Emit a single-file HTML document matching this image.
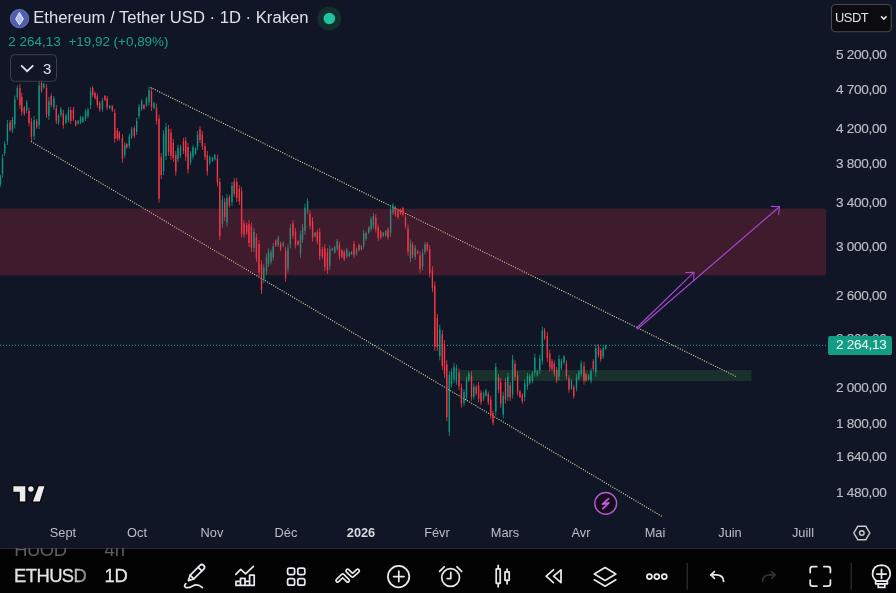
<!DOCTYPE html>
<html><head><meta charset="utf-8">
<style>
*{margin:0;padding:0;box-sizing:border-box}
html,body{width:896px;height:593px;overflow:hidden;background:#101626;font-family:"Liberation Sans",Arial,sans-serif}
#chart{position:absolute;left:0;top:0;width:896px;height:548px;background:#101626;overflow:hidden}
svg{position:absolute;left:0;top:0}
.t{position:absolute;line-height:1;white-space:nowrap}
#tb{position:absolute;left:0;top:548px;width:896px;height:45px;background:#030304;overflow:hidden}
</style></head><body>
<div id="wrap" style="position:absolute;left:0;top:0;width:896px;height:593px;overflow:hidden;filter:blur(0.35px)">
<div id="chart">
<svg width="896" height="548" viewBox="0 0 896 548">
<line x1="0" y1="345.3" x2="826" y2="345.3" stroke="#26a69a" stroke-width="1" stroke-dasharray="1 2"/>
<line x1="150.4" y1="87.4" x2="737" y2="377" stroke="#dcd09c" stroke-width="1.1" stroke-dasharray="1.1 1.35"/>
<line x1="31" y1="141.5" x2="662.8" y2="516.9" stroke="#dcd09c" stroke-width="1.1" stroke-dasharray="1.1 1.35"/>
<rect x="0.10" y="174.5" width="0.8" height="12.2" fill="#089981"/>
<rect x="-0.20" y="176.7" width="1.4" height="7.8" fill="#089981"/>
<rect x="2.10" y="154.0" width="0.8" height="23.6" fill="#089981"/>
<rect x="1.80" y="158.0" width="1.4" height="15.6" fill="#089981"/>
<rect x="4.30" y="141.0" width="0.8" height="15.0" fill="#089981"/>
<rect x="4.00" y="143.7" width="1.4" height="9.6" fill="#089981"/>
<rect x="7.00" y="120.0" width="0.8" height="25.0" fill="#089981"/>
<rect x="6.70" y="124.0" width="1.4" height="17.0" fill="#089981"/>
<rect x="9.70" y="120.0" width="0.8" height="12.0" fill="#f23645"/>
<rect x="9.40" y="122.2" width="1.4" height="7.7" fill="#f23645"/>
<rect x="12.00" y="117.0" width="0.8" height="16.0" fill="#089981"/>
<rect x="11.70" y="119.9" width="1.4" height="10.2" fill="#089981"/>
<rect x="14.40" y="95.5" width="0.8" height="33.0" fill="#089981"/>
<rect x="14.10" y="99.5" width="1.4" height="25.0" fill="#089981"/>
<rect x="16.90" y="85.4" width="0.8" height="14.2" fill="#089981"/>
<rect x="16.60" y="88.0" width="1.4" height="9.1" fill="#089981"/>
<rect x="19.50" y="84.0" width="0.8" height="25.0" fill="#f23645"/>
<rect x="19.20" y="88.0" width="1.4" height="17.0" fill="#f23645"/>
<rect x="21.40" y="92.8" width="0.8" height="22.9" fill="#f23645"/>
<rect x="21.10" y="96.8" width="1.4" height="14.9" fill="#f23645"/>
<rect x="23.90" y="106.0" width="0.8" height="9.7" fill="#f23645"/>
<rect x="23.60" y="107.7" width="1.4" height="6.2" fill="#f23645"/>
<rect x="26.30" y="100.0" width="0.8" height="13.0" fill="#089981"/>
<rect x="26.00" y="102.3" width="1.4" height="8.3" fill="#089981"/>
<rect x="28.60" y="107.6" width="0.8" height="18.9" fill="#f23645"/>
<rect x="28.30" y="111.0" width="1.4" height="12.1" fill="#f23645"/>
<rect x="31.00" y="118.0" width="0.8" height="23.0" fill="#f23645"/>
<rect x="30.70" y="122.0" width="1.4" height="15.0" fill="#f23645"/>
<rect x="33.70" y="116.0" width="0.8" height="24.0" fill="#089981"/>
<rect x="33.40" y="120.0" width="1.4" height="16.0" fill="#089981"/>
<rect x="36.30" y="119.0" width="0.8" height="10.0" fill="#f23645"/>
<rect x="36.00" y="120.8" width="1.4" height="6.4" fill="#f23645"/>
<rect x="38.70" y="81.4" width="0.8" height="47.6" fill="#089981"/>
<rect x="38.40" y="85.4" width="1.4" height="39.6" fill="#089981"/>
<rect x="41.10" y="80.7" width="0.8" height="12.1" fill="#f23645"/>
<rect x="40.80" y="82.9" width="1.4" height="7.7" fill="#f23645"/>
<rect x="43.40" y="82.7" width="0.8" height="6.1" fill="#089981"/>
<rect x="43.10" y="83.8" width="1.4" height="3.9" fill="#089981"/>
<rect x="46.10" y="84.0" width="0.8" height="34.0" fill="#f23645"/>
<rect x="45.80" y="88.0" width="1.4" height="26.0" fill="#f23645"/>
<rect x="48.50" y="97.0" width="0.8" height="23.0" fill="#089981"/>
<rect x="48.20" y="101.0" width="1.4" height="15.0" fill="#089981"/>
<rect x="50.80" y="93.5" width="0.8" height="14.1" fill="#f23645"/>
<rect x="50.50" y="96.0" width="1.4" height="9.0" fill="#f23645"/>
<rect x="53.50" y="96.0" width="0.8" height="14.0" fill="#089981"/>
<rect x="53.20" y="98.5" width="1.4" height="9.0" fill="#089981"/>
<rect x="55.90" y="105.0" width="0.8" height="19.0" fill="#f23645"/>
<rect x="55.60" y="108.4" width="1.4" height="12.2" fill="#f23645"/>
<rect x="58.20" y="114.0" width="0.8" height="11.0" fill="#089981"/>
<rect x="57.90" y="116.0" width="1.4" height="7.0" fill="#089981"/>
<rect x="60.50" y="107.0" width="0.8" height="10.0" fill="#089981"/>
<rect x="60.20" y="108.8" width="1.4" height="6.4" fill="#089981"/>
<rect x="62.90" y="110.0" width="0.8" height="18.5" fill="#f23645"/>
<rect x="62.60" y="113.3" width="1.4" height="11.8" fill="#f23645"/>
<rect x="65.60" y="113.7" width="0.8" height="10.8" fill="#089981"/>
<rect x="65.30" y="115.6" width="1.4" height="6.9" fill="#089981"/>
<rect x="68.10" y="107.0" width="0.8" height="15.5" fill="#089981"/>
<rect x="67.80" y="109.8" width="1.4" height="9.9" fill="#089981"/>
<rect x="70.40" y="107.0" width="0.8" height="17.0" fill="#f23645"/>
<rect x="70.10" y="110.1" width="1.4" height="10.9" fill="#f23645"/>
<rect x="73.00" y="107.0" width="0.8" height="14.0" fill="#f23645"/>
<rect x="72.70" y="109.5" width="1.4" height="9.0" fill="#f23645"/>
<rect x="75.30" y="120.0" width="0.8" height="6.5" fill="#f23645"/>
<rect x="75.00" y="121.2" width="1.4" height="4.2" fill="#f23645"/>
<rect x="77.80" y="120.0" width="0.8" height="4.5" fill="#089981"/>
<rect x="77.50" y="120.8" width="1.4" height="2.9" fill="#089981"/>
<rect x="80.20" y="115.7" width="0.8" height="8.3" fill="#089981"/>
<rect x="79.90" y="117.2" width="1.4" height="5.3" fill="#089981"/>
<rect x="82.50" y="116.0" width="0.8" height="7.0" fill="#089981"/>
<rect x="82.20" y="117.3" width="1.4" height="4.5" fill="#089981"/>
<rect x="85.20" y="109.0" width="0.8" height="12.0" fill="#089981"/>
<rect x="84.90" y="111.2" width="1.4" height="7.7" fill="#089981"/>
<rect x="87.60" y="107.6" width="0.8" height="10.4" fill="#089981"/>
<rect x="87.30" y="109.5" width="1.4" height="6.7" fill="#089981"/>
<rect x="90.20" y="87.4" width="0.8" height="21.6" fill="#089981"/>
<rect x="89.90" y="91.3" width="1.4" height="13.8" fill="#089981"/>
<rect x="92.30" y="86.0" width="0.8" height="11.0" fill="#f23645"/>
<rect x="92.00" y="88.0" width="1.4" height="7.0" fill="#f23645"/>
<rect x="94.60" y="91.5" width="0.8" height="8.1" fill="#f23645"/>
<rect x="94.30" y="93.0" width="1.4" height="5.2" fill="#f23645"/>
<rect x="96.90" y="93.5" width="0.8" height="14.1" fill="#f23645"/>
<rect x="96.60" y="96.0" width="1.4" height="9.0" fill="#f23645"/>
<rect x="99.30" y="101.0" width="0.8" height="10.7" fill="#f23645"/>
<rect x="99.00" y="102.9" width="1.4" height="6.8" fill="#f23645"/>
<rect x="102.00" y="98.0" width="0.8" height="13.7" fill="#089981"/>
<rect x="101.70" y="100.5" width="1.4" height="8.8" fill="#089981"/>
<rect x="104.50" y="95.0" width="0.8" height="6.0" fill="#f23645"/>
<rect x="104.20" y="96.1" width="1.4" height="3.8" fill="#f23645"/>
<rect x="106.70" y="96.0" width="0.8" height="14.0" fill="#f23645"/>
<rect x="106.40" y="98.5" width="1.4" height="9.0" fill="#f23645"/>
<rect x="109.40" y="105.0" width="0.8" height="4.0" fill="#089981"/>
<rect x="109.10" y="105.7" width="1.4" height="2.6" fill="#089981"/>
<rect x="111.90" y="105.0" width="0.8" height="6.7" fill="#f23645"/>
<rect x="111.60" y="106.2" width="1.4" height="4.3" fill="#f23645"/>
<rect x="114.40" y="109.0" width="0.8" height="33.7" fill="#f23645"/>
<rect x="114.10" y="113.0" width="1.4" height="25.7" fill="#f23645"/>
<rect x="116.90" y="128.0" width="0.8" height="13.0" fill="#f23645"/>
<rect x="116.60" y="130.3" width="1.4" height="8.3" fill="#f23645"/>
<rect x="118.90" y="131.0" width="0.8" height="9.6" fill="#f23645"/>
<rect x="118.60" y="132.7" width="1.4" height="6.1" fill="#f23645"/>
<rect x="122.00" y="134.0" width="0.8" height="28.8" fill="#f23645"/>
<rect x="121.70" y="138.0" width="1.4" height="20.8" fill="#f23645"/>
<rect x="124.40" y="142.0" width="0.8" height="16.0" fill="#089981"/>
<rect x="124.10" y="144.9" width="1.4" height="10.2" fill="#089981"/>
<rect x="126.40" y="143.0" width="0.8" height="5.7" fill="#f23645"/>
<rect x="126.10" y="144.0" width="1.4" height="3.6" fill="#f23645"/>
<rect x="128.90" y="134.0" width="0.8" height="14.7" fill="#089981"/>
<rect x="128.60" y="136.6" width="1.4" height="9.4" fill="#089981"/>
<rect x="131.20" y="127.0" width="0.8" height="12.0" fill="#089981"/>
<rect x="130.90" y="129.2" width="1.4" height="7.7" fill="#089981"/>
<rect x="133.90" y="125.8" width="0.8" height="12.2" fill="#f23645"/>
<rect x="133.60" y="128.0" width="1.4" height="7.8" fill="#f23645"/>
<rect x="136.30" y="117.7" width="0.8" height="17.3" fill="#089981"/>
<rect x="136.00" y="120.8" width="1.4" height="11.1" fill="#089981"/>
<rect x="138.60" y="104.0" width="0.8" height="15.0" fill="#089981"/>
<rect x="138.30" y="106.7" width="1.4" height="9.6" fill="#089981"/>
<rect x="141.30" y="99.0" width="0.8" height="12.0" fill="#089981"/>
<rect x="141.00" y="101.2" width="1.4" height="7.7" fill="#089981"/>
<rect x="143.60" y="104.0" width="0.8" height="5.6" fill="#f23645"/>
<rect x="143.30" y="105.0" width="1.4" height="3.6" fill="#f23645"/>
<rect x="146.00" y="96.8" width="0.8" height="10.2" fill="#089981"/>
<rect x="145.70" y="98.6" width="1.4" height="6.5" fill="#089981"/>
<rect x="148.60" y="86.7" width="0.8" height="18.9" fill="#089981"/>
<rect x="148.30" y="90.1" width="1.4" height="12.1" fill="#089981"/>
<rect x="151.10" y="87.4" width="0.8" height="23.6" fill="#f23645"/>
<rect x="150.80" y="91.4" width="1.4" height="15.6" fill="#f23645"/>
<rect x="153.60" y="101.6" width="0.8" height="8.0" fill="#089981"/>
<rect x="153.30" y="103.0" width="1.4" height="5.1" fill="#089981"/>
<rect x="156.10" y="103.6" width="0.8" height="20.9" fill="#f23645"/>
<rect x="155.80" y="107.4" width="1.4" height="13.4" fill="#f23645"/>
<rect x="158.60" y="114.4" width="0.8" height="88.2" fill="#f23645"/>
<rect x="158.30" y="118.4" width="1.4" height="80.2" fill="#f23645"/>
<rect x="160.80" y="153.0" width="0.8" height="26.0" fill="#f23645"/>
<rect x="160.50" y="157.0" width="1.4" height="18.0" fill="#f23645"/>
<rect x="163.20" y="130.0" width="0.8" height="45.0" fill="#089981"/>
<rect x="162.90" y="134.0" width="1.4" height="37.0" fill="#089981"/>
<rect x="165.60" y="123.0" width="0.8" height="37.0" fill="#089981"/>
<rect x="165.30" y="127.0" width="1.4" height="29.0" fill="#089981"/>
<rect x="168.20" y="125.0" width="0.8" height="31.0" fill="#f23645"/>
<rect x="167.90" y="129.0" width="1.4" height="23.0" fill="#f23645"/>
<rect x="170.60" y="128.5" width="0.8" height="31.5" fill="#f23645"/>
<rect x="170.30" y="132.5" width="1.4" height="23.5" fill="#f23645"/>
<rect x="172.90" y="139.0" width="0.8" height="23.0" fill="#f23645"/>
<rect x="172.60" y="143.0" width="1.4" height="15.0" fill="#f23645"/>
<rect x="175.40" y="151.0" width="0.8" height="24.6" fill="#f23645"/>
<rect x="175.10" y="155.0" width="1.4" height="16.6" fill="#f23645"/>
<rect x="177.60" y="144.7" width="0.8" height="17.3" fill="#089981"/>
<rect x="177.30" y="147.8" width="1.4" height="11.1" fill="#089981"/>
<rect x="180.10" y="144.7" width="0.8" height="13.3" fill="#089981"/>
<rect x="179.80" y="147.1" width="1.4" height="8.5" fill="#089981"/>
<rect x="183.10" y="138.0" width="0.8" height="16.0" fill="#f23645"/>
<rect x="182.80" y="140.9" width="1.4" height="10.2" fill="#f23645"/>
<rect x="185.30" y="137.0" width="0.8" height="23.8" fill="#f23645"/>
<rect x="185.00" y="141.0" width="1.4" height="15.8" fill="#f23645"/>
<rect x="187.60" y="143.0" width="0.8" height="30.6" fill="#f23645"/>
<rect x="187.30" y="147.0" width="1.4" height="22.6" fill="#f23645"/>
<rect x="190.20" y="151.0" width="0.8" height="13.8" fill="#089981"/>
<rect x="189.90" y="153.5" width="1.4" height="8.8" fill="#089981"/>
<rect x="192.60" y="144.7" width="0.8" height="14.7" fill="#089981"/>
<rect x="192.30" y="147.3" width="1.4" height="9.4" fill="#089981"/>
<rect x="195.20" y="147.0" width="0.8" height="8.0" fill="#089981"/>
<rect x="194.90" y="148.4" width="1.4" height="5.1" fill="#089981"/>
<rect x="197.20" y="131.0" width="0.8" height="19.0" fill="#089981"/>
<rect x="196.90" y="134.4" width="1.4" height="12.2" fill="#089981"/>
<rect x="199.60" y="126.0" width="0.8" height="17.0" fill="#f23645"/>
<rect x="199.30" y="129.1" width="1.4" height="10.9" fill="#f23645"/>
<rect x="201.90" y="131.0" width="0.8" height="19.0" fill="#f23645"/>
<rect x="201.60" y="134.4" width="1.4" height="12.2" fill="#f23645"/>
<rect x="204.60" y="143.0" width="0.8" height="17.0" fill="#f23645"/>
<rect x="204.30" y="146.1" width="1.4" height="10.9" fill="#f23645"/>
<rect x="206.90" y="151.0" width="0.8" height="24.6" fill="#f23645"/>
<rect x="206.60" y="155.0" width="1.4" height="16.6" fill="#f23645"/>
<rect x="209.30" y="155.4" width="0.8" height="9.4" fill="#089981"/>
<rect x="209.00" y="157.1" width="1.4" height="6.0" fill="#089981"/>
<rect x="212.00" y="156.7" width="0.8" height="5.3" fill="#089981"/>
<rect x="211.70" y="157.7" width="1.4" height="3.4" fill="#089981"/>
<rect x="214.40" y="154.0" width="0.8" height="6.8" fill="#089981"/>
<rect x="214.10" y="155.2" width="1.4" height="4.4" fill="#089981"/>
<rect x="217.00" y="154.7" width="0.8" height="31.7" fill="#f23645"/>
<rect x="216.70" y="158.7" width="1.4" height="23.7" fill="#f23645"/>
<rect x="219.40" y="178.0" width="0.8" height="62.0" fill="#f23645"/>
<rect x="219.10" y="182.0" width="1.4" height="54.0" fill="#f23645"/>
<rect x="222.00" y="195.6" width="0.8" height="32.4" fill="#089981"/>
<rect x="221.70" y="199.6" width="1.4" height="24.4" fill="#089981"/>
<rect x="224.30" y="198.0" width="0.8" height="23.0" fill="#f23645"/>
<rect x="224.00" y="202.0" width="1.4" height="15.0" fill="#f23645"/>
<rect x="226.60" y="194.0" width="0.8" height="32.6" fill="#089981"/>
<rect x="226.30" y="198.0" width="1.4" height="24.6" fill="#089981"/>
<rect x="229.00" y="195.0" width="0.8" height="12.7" fill="#f23645"/>
<rect x="228.70" y="197.3" width="1.4" height="8.1" fill="#f23645"/>
<rect x="231.60" y="182.0" width="0.8" height="24.0" fill="#089981"/>
<rect x="231.30" y="186.0" width="1.4" height="16.0" fill="#089981"/>
<rect x="233.80" y="178.0" width="0.8" height="19.0" fill="#f23645"/>
<rect x="233.50" y="181.4" width="1.4" height="12.2" fill="#f23645"/>
<rect x="236.40" y="178.0" width="0.8" height="24.0" fill="#f23645"/>
<rect x="236.10" y="182.0" width="1.4" height="16.0" fill="#f23645"/>
<rect x="238.90" y="185.0" width="0.8" height="20.0" fill="#f23645"/>
<rect x="238.60" y="188.6" width="1.4" height="12.8" fill="#f23645"/>
<rect x="241.20" y="187.0" width="0.8" height="50.5" fill="#f23645"/>
<rect x="240.90" y="191.0" width="1.4" height="42.5" fill="#f23645"/>
<rect x="243.60" y="220.0" width="0.8" height="18.0" fill="#f23645"/>
<rect x="243.30" y="223.2" width="1.4" height="11.5" fill="#f23645"/>
<rect x="246.30" y="222.6" width="0.8" height="12.2" fill="#f23645"/>
<rect x="246.00" y="224.8" width="1.4" height="7.8" fill="#f23645"/>
<rect x="248.60" y="220.0" width="0.8" height="27.0" fill="#f23645"/>
<rect x="248.30" y="224.0" width="1.4" height="19.0" fill="#f23645"/>
<rect x="251.00" y="222.6" width="0.8" height="29.4" fill="#f23645"/>
<rect x="250.70" y="226.6" width="1.4" height="21.4" fill="#f23645"/>
<rect x="253.60" y="228.0" width="0.8" height="24.0" fill="#089981"/>
<rect x="253.30" y="232.0" width="1.4" height="16.0" fill="#089981"/>
<rect x="256.00" y="233.5" width="0.8" height="28.3" fill="#f23645"/>
<rect x="255.70" y="237.5" width="1.4" height="20.3" fill="#f23645"/>
<rect x="258.60" y="240.0" width="0.8" height="36.6" fill="#f23645"/>
<rect x="258.30" y="244.0" width="1.4" height="28.6" fill="#f23645"/>
<rect x="261.10" y="260.4" width="0.8" height="33.6" fill="#f23645"/>
<rect x="260.80" y="264.4" width="1.4" height="25.6" fill="#f23645"/>
<rect x="263.40" y="264.5" width="0.8" height="18.8" fill="#089981"/>
<rect x="263.10" y="267.9" width="1.4" height="12.0" fill="#089981"/>
<rect x="266.10" y="253.7" width="0.8" height="21.6" fill="#089981"/>
<rect x="265.80" y="257.6" width="1.4" height="13.8" fill="#089981"/>
<rect x="268.10" y="248.3" width="0.8" height="18.7" fill="#089981"/>
<rect x="267.80" y="251.7" width="1.4" height="12.0" fill="#089981"/>
<rect x="270.60" y="249.6" width="0.8" height="14.9" fill="#089981"/>
<rect x="270.30" y="252.3" width="1.4" height="9.5" fill="#089981"/>
<rect x="272.80" y="243.0" width="0.8" height="17.4" fill="#089981"/>
<rect x="272.50" y="246.1" width="1.4" height="11.1" fill="#089981"/>
<rect x="275.30" y="239.5" width="0.8" height="7.5" fill="#f23645"/>
<rect x="275.00" y="240.8" width="1.4" height="4.8" fill="#f23645"/>
<rect x="277.80" y="235.5" width="0.8" height="11.5" fill="#089981"/>
<rect x="277.50" y="237.6" width="1.4" height="7.4" fill="#089981"/>
<rect x="280.20" y="241.6" width="0.8" height="9.4" fill="#f23645"/>
<rect x="279.90" y="243.3" width="1.4" height="6.0" fill="#f23645"/>
<rect x="282.90" y="241.6" width="0.8" height="5.4" fill="#089981"/>
<rect x="282.60" y="242.6" width="1.4" height="3.5" fill="#089981"/>
<rect x="285.20" y="247.0" width="0.8" height="35.0" fill="#f23645"/>
<rect x="284.90" y="251.0" width="1.4" height="27.0" fill="#f23645"/>
<rect x="287.60" y="244.3" width="0.8" height="28.3" fill="#089981"/>
<rect x="287.30" y="248.3" width="1.4" height="20.3" fill="#089981"/>
<rect x="289.90" y="224.0" width="0.8" height="24.3" fill="#089981"/>
<rect x="289.60" y="228.0" width="1.4" height="16.3" fill="#089981"/>
<rect x="292.60" y="220.0" width="0.8" height="18.9" fill="#f23645"/>
<rect x="292.30" y="223.4" width="1.4" height="12.1" fill="#f23645"/>
<rect x="295.10" y="228.0" width="0.8" height="20.3" fill="#f23645"/>
<rect x="294.80" y="231.7" width="1.4" height="13.0" fill="#f23645"/>
<rect x="297.60" y="240.0" width="0.8" height="5.6" fill="#f23645"/>
<rect x="297.30" y="241.0" width="1.4" height="3.6" fill="#f23645"/>
<rect x="300.10" y="230.8" width="0.8" height="26.9" fill="#089981"/>
<rect x="299.80" y="234.8" width="1.4" height="18.9" fill="#089981"/>
<rect x="302.20" y="224.0" width="0.8" height="19.0" fill="#089981"/>
<rect x="301.90" y="227.4" width="1.4" height="12.2" fill="#089981"/>
<rect x="304.60" y="203.7" width="0.8" height="31.1" fill="#089981"/>
<rect x="304.30" y="207.7" width="1.4" height="23.1" fill="#089981"/>
<rect x="307.20" y="198.3" width="0.8" height="16.2" fill="#089981"/>
<rect x="306.90" y="201.2" width="1.4" height="10.4" fill="#089981"/>
<rect x="309.60" y="210.4" width="0.8" height="19.0" fill="#f23645"/>
<rect x="309.30" y="213.8" width="1.4" height="12.2" fill="#f23645"/>
<rect x="312.20" y="217.0" width="0.8" height="24.6" fill="#f23645"/>
<rect x="311.90" y="221.0" width="1.4" height="16.6" fill="#f23645"/>
<rect x="314.60" y="232.0" width="0.8" height="5.5" fill="#089981"/>
<rect x="314.30" y="233.0" width="1.4" height="3.5" fill="#089981"/>
<rect x="316.90" y="229.4" width="0.8" height="14.9" fill="#f23645"/>
<rect x="316.60" y="232.1" width="1.4" height="9.5" fill="#f23645"/>
<rect x="319.30" y="228.0" width="0.8" height="32.4" fill="#f23645"/>
<rect x="319.00" y="232.0" width="1.4" height="24.4" fill="#f23645"/>
<rect x="322.00" y="247.0" width="0.8" height="12.0" fill="#f23645"/>
<rect x="321.70" y="249.2" width="1.4" height="7.7" fill="#f23645"/>
<rect x="324.40" y="244.3" width="0.8" height="26.9" fill="#f23645"/>
<rect x="324.10" y="248.3" width="1.4" height="18.9" fill="#f23645"/>
<rect x="327.00" y="248.3" width="0.8" height="25.7" fill="#f23645"/>
<rect x="326.70" y="252.3" width="1.4" height="17.7" fill="#f23645"/>
<rect x="329.40" y="245.6" width="0.8" height="24.4" fill="#089981"/>
<rect x="329.10" y="249.6" width="1.4" height="16.4" fill="#089981"/>
<rect x="331.90" y="247.6" width="0.8" height="3.4" fill="#089981"/>
<rect x="331.60" y="248.2" width="1.4" height="2.2" fill="#089981"/>
<rect x="334.40" y="245.6" width="0.8" height="8.1" fill="#089981"/>
<rect x="334.10" y="247.1" width="1.4" height="5.2" fill="#089981"/>
<rect x="336.80" y="238.9" width="0.8" height="12.1" fill="#089981"/>
<rect x="336.50" y="241.1" width="1.4" height="7.7" fill="#089981"/>
<rect x="339.00" y="241.6" width="0.8" height="18.1" fill="#f23645"/>
<rect x="338.70" y="244.9" width="1.4" height="11.6" fill="#f23645"/>
<rect x="341.50" y="249.0" width="0.8" height="9.3" fill="#f23645"/>
<rect x="341.20" y="250.7" width="1.4" height="6.0" fill="#f23645"/>
<rect x="343.80" y="250.0" width="0.8" height="11.0" fill="#f23645"/>
<rect x="343.50" y="252.0" width="1.4" height="7.0" fill="#f23645"/>
<rect x="346.40" y="247.6" width="0.8" height="10.7" fill="#089981"/>
<rect x="346.10" y="249.5" width="1.4" height="6.8" fill="#089981"/>
<rect x="348.90" y="251.6" width="0.8" height="5.4" fill="#089981"/>
<rect x="348.60" y="252.6" width="1.4" height="3.5" fill="#089981"/>
<rect x="351.20" y="251.0" width="0.8" height="4.0" fill="#089981"/>
<rect x="350.90" y="251.7" width="1.4" height="2.6" fill="#089981"/>
<rect x="353.60" y="240.8" width="0.8" height="17.5" fill="#f23645"/>
<rect x="353.30" y="244.0" width="1.4" height="11.2" fill="#f23645"/>
<rect x="356.10" y="247.6" width="0.8" height="8.0" fill="#089981"/>
<rect x="355.80" y="249.0" width="1.4" height="5.1" fill="#089981"/>
<rect x="358.60" y="243.5" width="0.8" height="8.1" fill="#f23645"/>
<rect x="358.30" y="245.0" width="1.4" height="5.2" fill="#f23645"/>
<rect x="361.00" y="245.0" width="0.8" height="5.3" fill="#089981"/>
<rect x="360.70" y="246.0" width="1.4" height="3.4" fill="#089981"/>
<rect x="363.30" y="230.0" width="0.8" height="19.0" fill="#089981"/>
<rect x="363.00" y="233.4" width="1.4" height="12.2" fill="#089981"/>
<rect x="365.60" y="231.4" width="0.8" height="9.4" fill="#089981"/>
<rect x="365.30" y="233.1" width="1.4" height="6.0" fill="#089981"/>
<rect x="368.40" y="226.0" width="0.8" height="8.0" fill="#089981"/>
<rect x="368.10" y="227.4" width="1.4" height="5.1" fill="#089981"/>
<rect x="370.70" y="216.6" width="0.8" height="14.8" fill="#089981"/>
<rect x="370.40" y="219.3" width="1.4" height="9.5" fill="#089981"/>
<rect x="373.00" y="213.0" width="0.8" height="15.7" fill="#089981"/>
<rect x="372.70" y="215.8" width="1.4" height="10.0" fill="#089981"/>
<rect x="375.40" y="214.0" width="0.8" height="18.7" fill="#f23645"/>
<rect x="375.10" y="217.4" width="1.4" height="12.0" fill="#f23645"/>
<rect x="377.80" y="224.6" width="0.8" height="16.2" fill="#f23645"/>
<rect x="377.50" y="227.5" width="1.4" height="10.4" fill="#f23645"/>
<rect x="380.40" y="230.0" width="0.8" height="9.5" fill="#f23645"/>
<rect x="380.10" y="231.7" width="1.4" height="6.1" fill="#f23645"/>
<rect x="382.80" y="232.0" width="0.8" height="5.0" fill="#089981"/>
<rect x="382.50" y="232.9" width="1.4" height="3.2" fill="#089981"/>
<rect x="385.30" y="230.0" width="0.8" height="6.8" fill="#089981"/>
<rect x="385.00" y="231.2" width="1.4" height="4.4" fill="#089981"/>
<rect x="387.60" y="227.3" width="0.8" height="12.2" fill="#f23645"/>
<rect x="387.30" y="229.5" width="1.4" height="7.8" fill="#f23645"/>
<rect x="390.20" y="205.8" width="0.8" height="31.0" fill="#089981"/>
<rect x="389.90" y="209.8" width="1.4" height="23.0" fill="#089981"/>
<rect x="392.60" y="203.0" width="0.8" height="12.0" fill="#089981"/>
<rect x="392.30" y="205.2" width="1.4" height="7.7" fill="#089981"/>
<rect x="395.00" y="205.8" width="0.8" height="10.8" fill="#f23645"/>
<rect x="394.70" y="207.7" width="1.4" height="6.9" fill="#f23645"/>
<rect x="397.60" y="208.5" width="0.8" height="10.8" fill="#f23645"/>
<rect x="397.30" y="210.4" width="1.4" height="6.9" fill="#f23645"/>
<rect x="400.10" y="208.5" width="0.8" height="6.5" fill="#f23645"/>
<rect x="399.80" y="209.7" width="1.4" height="4.2" fill="#f23645"/>
<rect x="402.60" y="206.5" width="0.8" height="10.1" fill="#f23645"/>
<rect x="402.30" y="208.3" width="1.4" height="6.5" fill="#f23645"/>
<rect x="405.10" y="215.0" width="0.8" height="13.7" fill="#f23645"/>
<rect x="404.80" y="217.5" width="1.4" height="8.8" fill="#f23645"/>
<rect x="407.60" y="224.6" width="0.8" height="31.0" fill="#f23645"/>
<rect x="407.30" y="228.6" width="1.4" height="23.0" fill="#f23645"/>
<rect x="410.10" y="239.5" width="0.8" height="22.9" fill="#089981"/>
<rect x="409.80" y="243.5" width="1.4" height="14.9" fill="#089981"/>
<rect x="412.20" y="242.0" width="0.8" height="16.3" fill="#f23645"/>
<rect x="411.90" y="244.9" width="1.4" height="10.4" fill="#f23645"/>
<rect x="414.80" y="245.0" width="0.8" height="14.7" fill="#089981"/>
<rect x="414.50" y="247.6" width="1.4" height="9.4" fill="#089981"/>
<rect x="417.20" y="250.0" width="0.8" height="4.3" fill="#f23645"/>
<rect x="416.90" y="250.8" width="1.4" height="2.8" fill="#f23645"/>
<rect x="419.60" y="251.6" width="0.8" height="21.4" fill="#f23645"/>
<rect x="419.30" y="255.5" width="1.4" height="13.7" fill="#f23645"/>
<rect x="422.20" y="249.0" width="0.8" height="21.5" fill="#089981"/>
<rect x="421.90" y="252.9" width="1.4" height="13.8" fill="#089981"/>
<rect x="424.60" y="242.0" width="0.8" height="12.3" fill="#089981"/>
<rect x="424.30" y="244.2" width="1.4" height="7.9" fill="#089981"/>
<rect x="426.90" y="242.0" width="0.8" height="9.6" fill="#f23645"/>
<rect x="426.60" y="243.7" width="1.4" height="6.1" fill="#f23645"/>
<rect x="429.30" y="245.0" width="0.8" height="32.5" fill="#f23645"/>
<rect x="429.00" y="249.0" width="1.4" height="24.5" fill="#f23645"/>
<rect x="432.00" y="266.4" width="0.8" height="25.9" fill="#f23645"/>
<rect x="431.70" y="270.4" width="1.4" height="17.9" fill="#f23645"/>
<rect x="434.40" y="281.6" width="0.8" height="69.4" fill="#f23645"/>
<rect x="434.10" y="285.6" width="1.4" height="61.4" fill="#f23645"/>
<rect x="436.90" y="314.0" width="0.8" height="37.0" fill="#f23645"/>
<rect x="436.60" y="318.0" width="1.4" height="29.0" fill="#f23645"/>
<rect x="439.40" y="324.7" width="0.8" height="35.7" fill="#089981"/>
<rect x="439.10" y="328.7" width="1.4" height="27.7" fill="#089981"/>
<rect x="441.90" y="330.0" width="0.8" height="40.0" fill="#f23645"/>
<rect x="441.60" y="334.0" width="1.4" height="32.0" fill="#f23645"/>
<rect x="444.10" y="340.0" width="0.8" height="38.0" fill="#f23645"/>
<rect x="443.80" y="344.0" width="1.4" height="30.0" fill="#f23645"/>
<rect x="446.40" y="360.4" width="0.8" height="60.8" fill="#f23645"/>
<rect x="446.10" y="364.4" width="1.4" height="52.8" fill="#f23645"/>
<rect x="448.90" y="371.0" width="0.8" height="65.0" fill="#089981"/>
<rect x="448.60" y="375.0" width="1.4" height="57.0" fill="#089981"/>
<rect x="451.10" y="368.5" width="0.8" height="19.0" fill="#089981"/>
<rect x="450.80" y="371.9" width="1.4" height="12.2" fill="#089981"/>
<rect x="453.60" y="363.0" width="0.8" height="20.3" fill="#089981"/>
<rect x="453.30" y="366.7" width="1.4" height="13.0" fill="#089981"/>
<rect x="456.00" y="364.5" width="0.8" height="20.3" fill="#089981"/>
<rect x="455.70" y="368.2" width="1.4" height="13.0" fill="#089981"/>
<rect x="458.60" y="368.5" width="0.8" height="21.5" fill="#f23645"/>
<rect x="458.30" y="372.4" width="1.4" height="13.8" fill="#f23645"/>
<rect x="461.00" y="383.5" width="0.8" height="24.2" fill="#f23645"/>
<rect x="460.70" y="387.5" width="1.4" height="16.2" fill="#f23645"/>
<rect x="463.60" y="389.0" width="0.8" height="17.4" fill="#089981"/>
<rect x="463.30" y="392.1" width="1.4" height="11.1" fill="#089981"/>
<rect x="466.10" y="376.7" width="0.8" height="24.3" fill="#089981"/>
<rect x="465.80" y="380.7" width="1.4" height="16.3" fill="#089981"/>
<rect x="468.40" y="371.2" width="0.8" height="10.8" fill="#089981"/>
<rect x="468.10" y="373.1" width="1.4" height="6.9" fill="#089981"/>
<rect x="471.10" y="371.3" width="0.8" height="29.7" fill="#f23645"/>
<rect x="470.80" y="375.3" width="1.4" height="21.7" fill="#f23645"/>
<rect x="473.40" y="383.5" width="0.8" height="16.1" fill="#089981"/>
<rect x="473.10" y="386.4" width="1.4" height="10.3" fill="#089981"/>
<rect x="475.80" y="384.8" width="0.8" height="10.8" fill="#f23645"/>
<rect x="475.50" y="386.7" width="1.4" height="6.9" fill="#f23645"/>
<rect x="478.20" y="382.0" width="0.8" height="20.3" fill="#f23645"/>
<rect x="477.90" y="385.7" width="1.4" height="13.0" fill="#f23645"/>
<rect x="480.60" y="390.0" width="0.8" height="15.0" fill="#f23645"/>
<rect x="480.30" y="392.7" width="1.4" height="9.6" fill="#f23645"/>
<rect x="483.20" y="391.6" width="0.8" height="9.4" fill="#089981"/>
<rect x="482.90" y="393.3" width="1.4" height="6.0" fill="#089981"/>
<rect x="485.60" y="388.9" width="0.8" height="8.1" fill="#089981"/>
<rect x="485.30" y="390.4" width="1.4" height="5.2" fill="#089981"/>
<rect x="487.90" y="391.6" width="0.8" height="13.4" fill="#f23645"/>
<rect x="487.60" y="394.0" width="1.4" height="8.6" fill="#f23645"/>
<rect x="490.40" y="395.6" width="0.8" height="22.9" fill="#f23645"/>
<rect x="490.10" y="399.6" width="1.4" height="14.9" fill="#f23645"/>
<rect x="492.60" y="410.4" width="0.8" height="14.9" fill="#f23645"/>
<rect x="492.30" y="413.1" width="1.4" height="9.5" fill="#f23645"/>
<rect x="495.40" y="363.0" width="0.8" height="52.8" fill="#089981"/>
<rect x="495.10" y="367.0" width="1.4" height="44.8" fill="#089981"/>
<rect x="498.10" y="374.0" width="0.8" height="19.0" fill="#f23645"/>
<rect x="497.80" y="377.4" width="1.4" height="12.2" fill="#f23645"/>
<rect x="500.30" y="378.0" width="0.8" height="29.7" fill="#f23645"/>
<rect x="500.00" y="382.0" width="1.4" height="21.7" fill="#f23645"/>
<rect x="502.80" y="391.6" width="0.8" height="26.9" fill="#089981"/>
<rect x="502.50" y="395.6" width="1.4" height="18.9" fill="#089981"/>
<rect x="505.10" y="378.0" width="0.8" height="25.7" fill="#f23645"/>
<rect x="504.80" y="382.0" width="1.4" height="17.7" fill="#f23645"/>
<rect x="507.50" y="372.7" width="0.8" height="28.3" fill="#089981"/>
<rect x="507.20" y="376.7" width="1.4" height="20.3" fill="#089981"/>
<rect x="509.80" y="382.0" width="0.8" height="19.0" fill="#f23645"/>
<rect x="509.50" y="385.4" width="1.4" height="12.2" fill="#f23645"/>
<rect x="512.20" y="355.0" width="0.8" height="43.3" fill="#089981"/>
<rect x="511.90" y="359.0" width="1.4" height="35.3" fill="#089981"/>
<rect x="514.60" y="360.4" width="0.8" height="20.2" fill="#f23645"/>
<rect x="514.30" y="364.0" width="1.4" height="12.9" fill="#f23645"/>
<rect x="517.20" y="371.2" width="0.8" height="24.4" fill="#f23645"/>
<rect x="516.90" y="375.2" width="1.4" height="16.4" fill="#f23645"/>
<rect x="519.60" y="390.0" width="0.8" height="8.3" fill="#f23645"/>
<rect x="519.30" y="391.5" width="1.4" height="5.3" fill="#f23645"/>
<rect x="521.90" y="393.0" width="0.8" height="10.7" fill="#f23645"/>
<rect x="521.60" y="394.9" width="1.4" height="6.8" fill="#f23645"/>
<rect x="524.30" y="379.3" width="0.8" height="21.7" fill="#089981"/>
<rect x="524.00" y="383.2" width="1.4" height="13.9" fill="#089981"/>
<rect x="527.00" y="372.7" width="0.8" height="17.3" fill="#089981"/>
<rect x="526.70" y="375.8" width="1.4" height="11.1" fill="#089981"/>
<rect x="529.40" y="374.0" width="0.8" height="10.8" fill="#089981"/>
<rect x="529.10" y="375.9" width="1.4" height="6.9" fill="#089981"/>
<rect x="532.00" y="371.2" width="0.8" height="12.1" fill="#089981"/>
<rect x="531.70" y="373.4" width="1.4" height="7.7" fill="#089981"/>
<rect x="534.40" y="353.7" width="0.8" height="22.9" fill="#089981"/>
<rect x="534.10" y="357.7" width="1.4" height="14.9" fill="#089981"/>
<rect x="536.90" y="370.0" width="0.8" height="6.6" fill="#089981"/>
<rect x="536.60" y="371.2" width="1.4" height="4.2" fill="#089981"/>
<rect x="539.40" y="355.0" width="0.8" height="19.0" fill="#089981"/>
<rect x="539.10" y="358.4" width="1.4" height="12.2" fill="#089981"/>
<rect x="541.90" y="326.7" width="0.8" height="37.8" fill="#089981"/>
<rect x="541.60" y="330.7" width="1.4" height="29.8" fill="#089981"/>
<rect x="544.20" y="328.0" width="0.8" height="12.0" fill="#f23645"/>
<rect x="543.90" y="330.2" width="1.4" height="7.7" fill="#f23645"/>
<rect x="546.90" y="332.0" width="0.8" height="29.8" fill="#f23645"/>
<rect x="546.60" y="336.0" width="1.4" height="21.8" fill="#f23645"/>
<rect x="549.40" y="349.6" width="0.8" height="21.6" fill="#f23645"/>
<rect x="549.10" y="353.5" width="1.4" height="13.8" fill="#f23645"/>
<rect x="551.60" y="359.0" width="0.8" height="12.2" fill="#f23645"/>
<rect x="551.30" y="361.2" width="1.4" height="7.8" fill="#f23645"/>
<rect x="553.90" y="360.4" width="0.8" height="16.2" fill="#f23645"/>
<rect x="553.60" y="363.3" width="1.4" height="10.4" fill="#f23645"/>
<rect x="556.30" y="367.0" width="0.8" height="16.3" fill="#f23645"/>
<rect x="556.00" y="369.9" width="1.4" height="10.4" fill="#f23645"/>
<rect x="558.60" y="355.0" width="0.8" height="25.6" fill="#089981"/>
<rect x="558.30" y="359.0" width="1.4" height="17.6" fill="#089981"/>
<rect x="561.00" y="359.0" width="0.8" height="11.0" fill="#089981"/>
<rect x="560.70" y="361.0" width="1.4" height="7.0" fill="#089981"/>
<rect x="563.60" y="355.0" width="0.8" height="9.5" fill="#089981"/>
<rect x="563.30" y="356.7" width="1.4" height="6.1" fill="#089981"/>
<rect x="566.00" y="360.4" width="0.8" height="18.9" fill="#f23645"/>
<rect x="565.70" y="363.8" width="1.4" height="12.1" fill="#f23645"/>
<rect x="568.60" y="375.3" width="0.8" height="17.5" fill="#f23645"/>
<rect x="568.30" y="378.4" width="1.4" height="11.2" fill="#f23645"/>
<rect x="571.10" y="379.3" width="0.8" height="10.7" fill="#089981"/>
<rect x="570.80" y="381.2" width="1.4" height="6.8" fill="#089981"/>
<rect x="573.40" y="384.7" width="0.8" height="14.1" fill="#f23645"/>
<rect x="573.10" y="387.2" width="1.4" height="9.0" fill="#f23645"/>
<rect x="576.10" y="374.0" width="0.8" height="17.4" fill="#089981"/>
<rect x="575.80" y="377.1" width="1.4" height="11.1" fill="#089981"/>
<rect x="578.40" y="370.0" width="0.8" height="10.6" fill="#089981"/>
<rect x="578.10" y="371.9" width="1.4" height="6.8" fill="#089981"/>
<rect x="580.80" y="360.4" width="0.8" height="16.2" fill="#089981"/>
<rect x="580.50" y="363.3" width="1.4" height="10.4" fill="#089981"/>
<rect x="583.60" y="361.8" width="0.8" height="22.9" fill="#f23645"/>
<rect x="583.30" y="365.8" width="1.4" height="14.9" fill="#f23645"/>
<rect x="585.60" y="372.6" width="0.8" height="9.4" fill="#f23645"/>
<rect x="585.30" y="374.3" width="1.4" height="6.0" fill="#f23645"/>
<rect x="588.20" y="374.0" width="0.8" height="6.6" fill="#089981"/>
<rect x="587.90" y="375.2" width="1.4" height="4.2" fill="#089981"/>
<rect x="590.60" y="368.5" width="0.8" height="14.8" fill="#089981"/>
<rect x="590.30" y="371.2" width="1.4" height="9.5" fill="#089981"/>
<rect x="592.90" y="359.0" width="0.8" height="12.2" fill="#f23645"/>
<rect x="592.60" y="361.2" width="1.4" height="7.8" fill="#f23645"/>
<rect x="595.40" y="344.3" width="0.8" height="32.3" fill="#089981"/>
<rect x="595.10" y="348.3" width="1.4" height="24.3" fill="#089981"/>
<rect x="598.10" y="344.3" width="0.8" height="13.4" fill="#f23645"/>
<rect x="597.80" y="346.7" width="1.4" height="8.6" fill="#f23645"/>
<rect x="600.40" y="348.3" width="0.8" height="13.5" fill="#f23645"/>
<rect x="600.10" y="350.7" width="1.4" height="8.6" fill="#f23645"/>
<rect x="602.80" y="345.6" width="0.8" height="13.4" fill="#089981"/>
<rect x="602.50" y="348.0" width="1.4" height="8.6" fill="#089981"/>
<rect x="605.30" y="344.3" width="0.8" height="5.3" fill="#089981"/>
<rect x="605.00" y="345.3" width="1.4" height="3.4" fill="#089981"/>
<rect x="0" y="208.7" width="826" height="66.6" fill="#f3324c" fill-opacity="0.21"/>
<rect x="459" y="370" width="292.5" height="11" fill="#4caf50" fill-opacity="0.17"/>
<g stroke="#a947d0" stroke-width="1.15" fill="none" stroke-linecap="round">
<line x1="636.5" y1="328" x2="693.8" y2="272.3"/>
<polyline points="685.7,272.5 693.8,272.3 693.8,280.6"/>
<line x1="637.5" y1="329" x2="779.5" y2="206.7"/>
<polyline points="771.4,206.4 779.5,206.7 778.7,214.3"/>
</g>
<circle cx="605.7" cy="503.4" r="10.9" fill="#170c1e" stroke="#b05ccc" stroke-width="1.4"/>
<polyline points="608.6,498.6 602.6,504.2 608.8,502.8 602.8,508.6" fill="none" stroke="#c05ee0" stroke-width="1.7" stroke-linecap="round" stroke-linejoin="round"/>
<g fill="#ececec" stroke="#000" stroke-width="1.1">
<path d="M12.8 485.8 H25.9 V502 H19.2 V492.2 H12.8 Z"/>
<circle cx="30.9" cy="488.9" r="3.3"/>
<path d="M38.2 485.8 H45.2 L40.2 502 H32.1 Z"/>
</g>
<g stroke="#c8cad0" stroke-width="1.4" fill="none">
<path d="M857.8 526.3 L865.8 526.3 L869.8 533 L865.8 539.7 L857.8 539.7 L853.8 533 Z"/>
<circle cx="861.8" cy="533" r="2.3"/>
</g>
<circle cx="19.5" cy="18.6" r="9.2" fill="#4f5fae" stroke="#6b78c0" stroke-width="0.9"/>
<path d="M19.5 12.4 L23.3 19 L19.5 24.8 L15.7 19 Z" fill="#b4bef0" stroke="#eef0ff" stroke-width="1" stroke-linejoin="round"/>
<circle cx="329.3" cy="18.5" r="12" fill="#13302f"/>
<circle cx="329.3" cy="18.5" r="5.8" fill="#21c29f"/>
<rect x="10.5" y="54.7" width="46" height="26.6" rx="4" fill="none" stroke="#3a3e48" stroke-width="1"/>
<polyline points="21.1,65.4 27.1,71.2 33.3,65.4" stroke="#e0e3eb" stroke-width="1.8" fill="none"/>
<rect x="831.5" y="4.5" width="59.8" height="27.2" rx="4" fill="#0c0c0e" stroke="#454a55" stroke-width="1.1"/>
<polyline points="881.1,16.4 883.8,19.1 886.5,16.4" stroke="#e0e3eb" stroke-width="1.6" fill="none"/>
</svg>
<div class="t" style="left:33.20px;top:9.71px;font-size:16.65px;color:#dfe1e6;">Ethereum / Tether USD · 1D · Kraken</div>
<div class="t" style="left:8.30px;top:35.17px;font-size:13.5px;color:#1ea386;">2 264,13</div>
<div class="t" style="left:68.40px;top:35.21px;font-size:13.45px;color:#1ea386;">+19,92 (+0,89%)</div>
<div class="t" style="left:43.00px;top:60.50px;font-size:15px;color:#e0e3eb;">3</div>
<div class="t" style="left:835.00px;top:12.48px;font-size:12.9px;color:#e0e3eb;letter-spacing:-0.5px">USDT</div>
<div class="t" style="right:9.40px;top:48.10px;font-size:13.6px;color:#bcbfc6;letter-spacing:-0.3px;-webkit-text-stroke:0.15px #bcbfc6">5 200,00</div>
<div class="t" style="right:9.40px;top:83.29px;font-size:13.6px;color:#bcbfc6;letter-spacing:-0.3px;-webkit-text-stroke:0.15px #bcbfc6">4 700,00</div>
<div class="t" style="right:9.40px;top:122.45px;font-size:13.6px;color:#bcbfc6;letter-spacing:-0.3px;-webkit-text-stroke:0.15px #bcbfc6">4 200,00</div>
<div class="t" style="right:9.40px;top:157.28px;font-size:13.6px;color:#bcbfc6;letter-spacing:-0.3px;-webkit-text-stroke:0.15px #bcbfc6">3 800,00</div>
<div class="t" style="right:9.40px;top:196.00px;font-size:13.6px;color:#bcbfc6;letter-spacing:-0.3px;-webkit-text-stroke:0.15px #bcbfc6">3 400,00</div>
<div class="t" style="right:9.40px;top:239.57px;font-size:13.6px;color:#bcbfc6;letter-spacing:-0.3px;-webkit-text-stroke:0.15px #bcbfc6">3 000,00</div>
<div class="t" style="right:9.40px;top:289.38px;font-size:13.6px;color:#bcbfc6;letter-spacing:-0.3px;-webkit-text-stroke:0.15px #bcbfc6">2 600,00</div>
<div class="t" style="right:9.40px;top:332.06px;font-size:13.6px;color:#bcbfc6;letter-spacing:-0.3px;-webkit-text-stroke:0.15px #bcbfc6">2 300,00</div>
<div class="t" style="right:9.40px;top:380.71px;font-size:13.6px;color:#bcbfc6;letter-spacing:-0.3px;-webkit-text-stroke:0.15px #bcbfc6">2 000,00</div>
<div class="t" style="right:9.40px;top:417.39px;font-size:13.6px;color:#bcbfc6;letter-spacing:-0.3px;-webkit-text-stroke:0.15px #bcbfc6">1 800,00</div>
<div class="t" style="right:9.40px;top:449.79px;font-size:13.6px;color:#bcbfc6;letter-spacing:-0.3px;-webkit-text-stroke:0.15px #bcbfc6">1 640,00</div>
<div class="t" style="right:9.40px;top:485.53px;font-size:13.6px;color:#bcbfc6;letter-spacing:-0.3px;-webkit-text-stroke:0.15px #bcbfc6">1 480,00</div>
<div style="position:absolute;left:827.6px;top:336.2px;width:64.1px;height:18.8px;border-radius:2px;background:#139d85"></div>
<div class="t" style="right:9.40px;top:338.29px;font-size:13.6px;color:#f0fffa;letter-spacing:-0.3px">2 264,13</div>
<div class="t" style="left:33px;width:60px;text-align:center;top:527.06px;font-size:12.8px;color:#bcbfc6;">Sept</div>
<div class="t" style="left:107px;width:60px;text-align:center;top:527.06px;font-size:12.8px;color:#bcbfc6;">Oct</div>
<div class="t" style="left:182px;width:60px;text-align:center;top:527.06px;font-size:12.8px;color:#bcbfc6;">Nov</div>
<div class="t" style="left:256px;width:60px;text-align:center;top:527.06px;font-size:12.8px;color:#bcbfc6;">Déc</div>
<div class="t" style="left:331px;width:60px;text-align:center;top:527.06px;font-size:12.8px;color:#d6d8de;font-weight:bold;">2026</div>
<div class="t" style="left:407px;width:60px;text-align:center;top:527.06px;font-size:12.8px;color:#bcbfc6;">Févr</div>
<div class="t" style="left:475px;width:60px;text-align:center;top:527.06px;font-size:12.8px;color:#bcbfc6;">Mars</div>
<div class="t" style="left:551px;width:60px;text-align:center;top:527.06px;font-size:12.8px;color:#bcbfc6;">Avr</div>
<div class="t" style="left:625px;width:60px;text-align:center;top:527.06px;font-size:12.8px;color:#bcbfc6;">Mai</div>
<div class="t" style="left:700px;width:60px;text-align:center;top:527.06px;font-size:12.8px;color:#bcbfc6;">Juin</div>
<div class="t" style="left:773px;width:60px;text-align:center;top:527.06px;font-size:12.8px;color:#bcbfc6;">Juill</div>
</div>
<div id="tb">
<div style="position:absolute;left:0;top:0;width:896px;height:1px;background:#262a33"></div>

<svg width="896" height="45" viewBox="0 548 896 45" style="left:0;top:0">
<g stroke="#e6e8ec" stroke-width="1.75" fill="none" stroke-linecap="round" stroke-linejoin="round">
<!-- pencil -->
<path d="M188.4 580.6 L190.2 575.2 L200 565.4 A2.6 2.6 0 0 1 203.7 569.1 L193.8 578.9 Z"/>
<line x1="190.2" y1="575.2" x2="193.8" y2="578.9"/>
<line x1="198.2" y1="567.3" x2="201.8" y2="570.9"/>
<path d="M185.8 583.6 Q183.2 586.6 186.2 587.6 Q189 588.2 192.6 586 Q197.5 583.2 202.4 587.6"/>
<!-- chart -->
<polyline points="235.8,574.3 240.7,569.4 245.6,573.8 253.4,566.4"/>
<path d="M236 585.4 V581.4 H240.5 V585.4 M240.5 585.4 V578.3 H245 V585.4 M245 585.4 V581.4 H249.6 V585.4 M249.6 585.4 V575.2 H254.2 V585.4 H236"/>
<!-- grid -->
<rect x="287.6" y="568" width="7" height="6.6" rx="1.8"/>
<rect x="297.8" y="568" width="7" height="6.6" rx="1.8"/>
<rect x="287.6" y="578.6" width="7" height="6.6" rx="1.8"/>
<rect x="297.8" y="578.6" width="7" height="6.6" rx="1.8"/>
<!-- plus circle -->
<circle cx="398.6" cy="576.6" r="10.7"/>
<line x1="393.6" y1="576.6" x2="404" y2="576.6"/>
<line x1="398.8" y1="571.2" x2="398.8" y2="581.6"/>
<!-- alarm -->
<circle cx="450.6" cy="577.6" r="8.9"/>
<polyline points="450.8,572.3 450.8,578.5 447.2,578.5"/>
<line x1="439.6" y1="571.3" x2="444.2" y2="566.8"/>
<line x1="457" y1="566.8" x2="461.6" y2="571.3"/>
<!-- candles icon -->
<rect x="496.2" y="568.8" width="4" height="14.6" rx="0.4"/>
<line x1="498.2" y1="565.4" x2="498.2" y2="568.8"/><line x1="498.2" y1="583.4" x2="498.2" y2="586.8"/>
<rect x="505" y="571.8" width="4.2" height="8.6" rx="0.4"/>
<line x1="507.1" y1="569.2" x2="507.1" y2="571.8"/><line x1="507.1" y1="580.4" x2="507.1" y2="583.8"/>
<!-- rewind -->
<path d="M553.4 569.8 L546.2 576.2 L553.4 582.6"/>
<path d="M561 569.8 L553.6 576.2 L561 582.6 Z"/>
<!-- layers -->
<path d="M605.1 567.6 L615.8 574.1 L605.1 580.4 L594.3 574.1 Z"/>
<polyline points="594.3,579.8 605.1,586.2 615.8,579.8"/>
<!-- dots -->
<circle cx="649.4" cy="576.5" r="2.5"/><circle cx="656.8" cy="576.5" r="2.5"/><circle cx="664.3" cy="576.5" r="2.5"/>
<!-- undo -->
<path d="M711 574.9 H717 Q723.4 575.4 723.6 581.4"/>
<polyline points="714.4,571.6 711,574.9 714.4,578.3"/>
<!-- fullscreen -->
<path d="M810.2 572.6 V569 Q810.2 566.6 812.6 566.6 H816.8"/>
<path d="M823.8 566.6 H828 Q830.4 566.6 830.4 569 V572.6"/>
<path d="M810.2 580 V583.8 Q810.2 586.2 812.6 586.2 H816.8"/>
<path d="M823.8 586.2 H828 Q830.4 586.2 830.4 583.8 V580"/>
<!-- bulb -->
<path d="M876.4 581 Q872.4 577.6 872.6 573.6 Q873 565.6 881.4 565.2 Q889.8 565.6 890.2 573.6 Q890.4 577.6 886.4 581 Z"/>
<line x1="876.8" y1="574" x2="886.2" y2="574"/>
<line x1="881.5" y1="569.4" x2="881.5" y2="578.4"/>
<rect x="875.6" y="581" width="11.8" height="2.8"/>
<rect x="878.2" y="583.8" width="6.6" height="3.6"/>
</g>
<!-- compare icon: hollow strokes -->
<g fill="none" stroke-linecap="round" stroke-linejoin="round">
<polyline points="337.6,580.5 342.7,575.6 347.7,580.5" stroke="#e6e8ec" stroke-width="4.9"/>
<polyline points="337.6,580.5 342.7,575.6 347.7,580.5" stroke="#030304" stroke-width="1.6"/>
<polyline points="347.6,570.9 352.5,575.5 357.7,570.9" stroke="#e6e8ec" stroke-width="4.9"/>
<polyline points="347.6,570.9 352.5,575.5 357.7,570.9" stroke="#030304" stroke-width="1.6"/>
</g>
<g stroke="#333336" stroke-width="1.6" fill="none" stroke-linecap="round" stroke-linejoin="round">
<path d="M775 574.9 H769 Q762.8 575.4 762.6 581.4"/>
<polyline points="771.6,571.6 775,574.9 771.6,578.3"/>
</g>
<line x1="687.2" y1="563" x2="687.2" y2="589.6" stroke="#2a2b2f" stroke-width="1.4"/>
<line x1="851.2" y1="563" x2="851.2" y2="589.6" stroke="#2a2b2f" stroke-width="1.4"/>
</svg>
<div class="t" style="left:14.30px;top:-6.78px;font-size:18.4px;color:#5c5e62;letter-spacing:-0.5px">HUOD</div>
<div class="t" style="left:104.60px;top:-6.78px;font-size:18.4px;color:#5c5e62;">4h</div>
<div class="t" style="left:14.00px;top:18.82px;font-size:18.4px;color:#e2e4e8;-webkit-text-stroke:0.3px #e2e4e8;letter-spacing:-0.55px">ETHUSD</div>
<div class="t" style="left:104.60px;top:18.82px;font-size:18.4px;color:#e2e4e8;-webkit-text-stroke:0.3px #e2e4e8;letter-spacing:-0.3px">1D</div>
<div style="position:absolute;left:70px;top:20px;width:20px;height:22px;background:linear-gradient(to right,rgba(3,3,4,0),rgba(3,3,4,0.55))"></div>
</div>
</div>
</body></html>
